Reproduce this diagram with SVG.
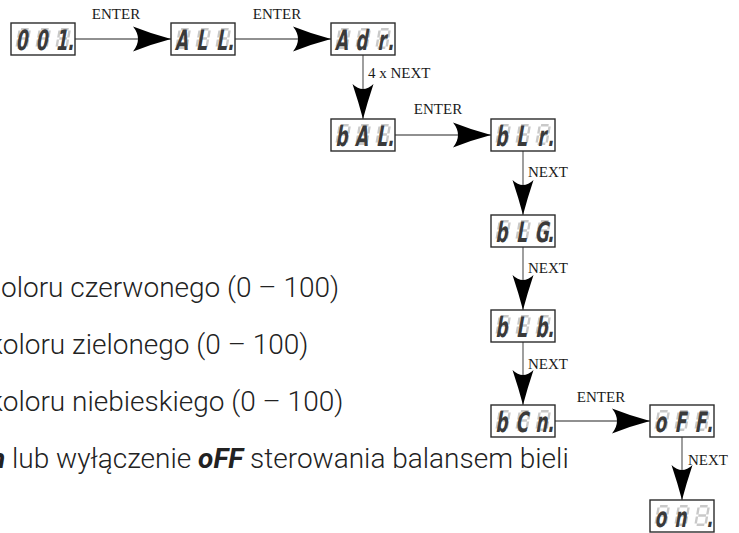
<svg xmlns="http://www.w3.org/2000/svg" xmlns:xlink="http://www.w3.org/1999/xlink" width="739" height="533" viewBox="0 0 739 533">
<style>
.box{fill:#fff;stroke:#2b2b2b;stroke-width:1.4}
.seg{fill:none;stroke:#c9c9c9;stroke-width:2.4}
.lit{font-family:"DejaVu Sans",sans-serif;font-weight:bold;font-size:28px;fill:#3a3a3a;text-anchor:middle}
.lbl{font-family:"Liberation Serif",serif;font-size:15px;fill:#1a1a1a}
.body{font-family:Roboto,"Liberation Sans",sans-serif;font-weight:300;font-size:28px;fill:#222}
.em{font-weight:bold;font-style:italic}
.con{stroke:#6b6b6b;stroke-width:1.3;fill:none}
</style>
<defs>
<marker id="ah" viewBox="-38 -13 38 26" refX="0" refY="0" markerWidth="38" markerHeight="26" markerUnits="userSpaceOnUse" orient="auto" overflow="visible">
<path d="M0,0 Q-19,-5 -38,-12.5 Q-28,0 -38,12.5 Q-19,5 0,0Z" fill="#000"/>
</marker>
<marker id="av" viewBox="-35 -11 35 22" refX="0" refY="0" markerWidth="35" markerHeight="22" markerUnits="userSpaceOnUse" orient="auto" overflow="visible">
<path d="M0,0 Q-17,-4.5 -35,-10.5 Q-25,0 -35,10.5 Q-17,4.5 0,0Z" fill="#000"/>
</marker>
<path id="d8" class="seg" d="M2.2,1.3H9.8 M2.2,10.5H9.8 M2.2,19.7H9.8 M1,2.4V9.4 M11,2.4V9.4 M1,11.6V18.6 M11,11.6V18.6"/>
<g id="ghost">
<rect class="box" x="0" y="0" width="64" height="32"/>
<use xlink:href="#d8" transform="translate(8,5) skewX(-10)"/>
<use xlink:href="#d8" transform="translate(28,5) skewX(-10)"/>
<use xlink:href="#d8" transform="translate(48,5) skewX(-10)"/>
</g>
</defs>

<g id="connectors">
<line class="con" x1="75" y1="39" x2="171" y2="39" marker-end="url(#ah)"/>
<line class="con" x1="235" y1="39" x2="331" y2="39" marker-end="url(#ah)"/>
<line class="con" x1="363" y1="55" x2="363" y2="119" marker-end="url(#av)"/>
<line class="con" x1="395" y1="135" x2="491" y2="135" marker-end="url(#ah)"/>
<line class="con" x1="523" y1="151" x2="523" y2="215" marker-end="url(#av)"/>
<line class="con" x1="523" y1="247" x2="523" y2="310" marker-end="url(#av)"/>
<line class="con" x1="523" y1="342" x2="523" y2="405" marker-end="url(#av)"/>
<line class="con" x1="555" y1="421" x2="650" y2="421" marker-end="url(#ah)"/>
<line class="con" x1="682" y1="437" x2="682" y2="500" marker-end="url(#av)"/>
<text class="lbl" x="116" y="19" text-anchor="middle">ENTER</text>
<text class="lbl" x="277" y="19" text-anchor="middle">ENTER</text>
<text class="lbl" x="368" y="78">4 x NEXT</text>
<text class="lbl" x="438" y="114" text-anchor="middle">ENTER</text>
<text class="lbl" x="528" y="177">NEXT</text>
<text class="lbl" x="528" y="273">NEXT</text>
<text class="lbl" x="528" y="369">NEXT</text>
<text class="lbl" x="601" y="402" text-anchor="middle">ENTER</text>
<text class="lbl" x="688" y="465">NEXT</text>
</g>

<g id="n001"><use xlink:href="#ghost" x="11" y="23"/><text class="lit" transform="translate(11,49.5) skewX(-10) scale(0.6,1)" x="17.25 50.6 83.9 99.2" y="0">001.</text></g>
<g id="nALL"><use xlink:href="#ghost" x="171" y="23"/><text class="lit" transform="translate(171,49.5) skewX(-10) scale(0.6,1)" x="17.25 50.6 83.9 99.2" y="0">ALL.</text></g>
<g id="nAdr"><use xlink:href="#ghost" x="331" y="23"/><text class="lit" transform="translate(331,49.5) skewX(-10) scale(0.6,1)" x="17.25 50.6 83.9 99.2" y="0">Adr.</text></g>
<g id="nbAL"><use xlink:href="#ghost" x="331" y="119"/><text class="lit" transform="translate(331,145.5) skewX(-10) scale(0.6,1)" x="17.25 50.6 83.9 99.2" y="0">bAL.</text></g>
<g id="nbLr"><use xlink:href="#ghost" x="491" y="119"/><text class="lit" transform="translate(491,145.5) skewX(-10) scale(0.6,1)" x="17.25 50.6 83.9 99.2" y="0">bLr.</text></g>
<g id="nbLG"><use xlink:href="#ghost" x="491" y="215"/><text class="lit" transform="translate(491,241.5) skewX(-10) scale(0.6,1)" x="17.25 50.6 83.9 99.2" y="0">bLG.</text></g>
<g id="nbLb"><use xlink:href="#ghost" x="491" y="310"/><text class="lit" transform="translate(491,336.5) skewX(-10) scale(0.6,1)" x="17.25 50.6 83.9 99.2" y="0">bLb.</text></g>
<g id="nbCn"><use xlink:href="#ghost" x="491" y="405"/><text class="lit" transform="translate(491,431.5) skewX(-10) scale(0.6,1)" x="17.25 50.6 83.9 99.2" y="0">bCn.</text></g>
<g id="noFF"><use xlink:href="#ghost" x="650" y="405"/><text class="lit" transform="translate(650,431.5) skewX(-10) scale(0.6,1)" x="17.25 50.6 83.9 99.2" y="0">oFF.</text></g>
<g id="non"><use xlink:href="#ghost" x="650" y="500"/><text class="lit" transform="translate(650,526.5) skewX(-10) scale(0.6,1)" x="17.25 50.6 99.2" y="0">on.</text></g>

<g id="desc">
<text class="body" x="1" y="297">oloru czerwonego (0 – 100)</text>
<text class="body" x="-11" y="354">koloru zielonego (0 – 100)</text>
<text class="body" x="-11" y="411">koloru niebieskiego (0 – 100)</text>
<text class="body" x="-10" y="468"><tspan class="em">n</tspan> lub wyłączenie <tspan class="em">oFF</tspan> sterowania balansem bieli</text>
</g>
</svg>
